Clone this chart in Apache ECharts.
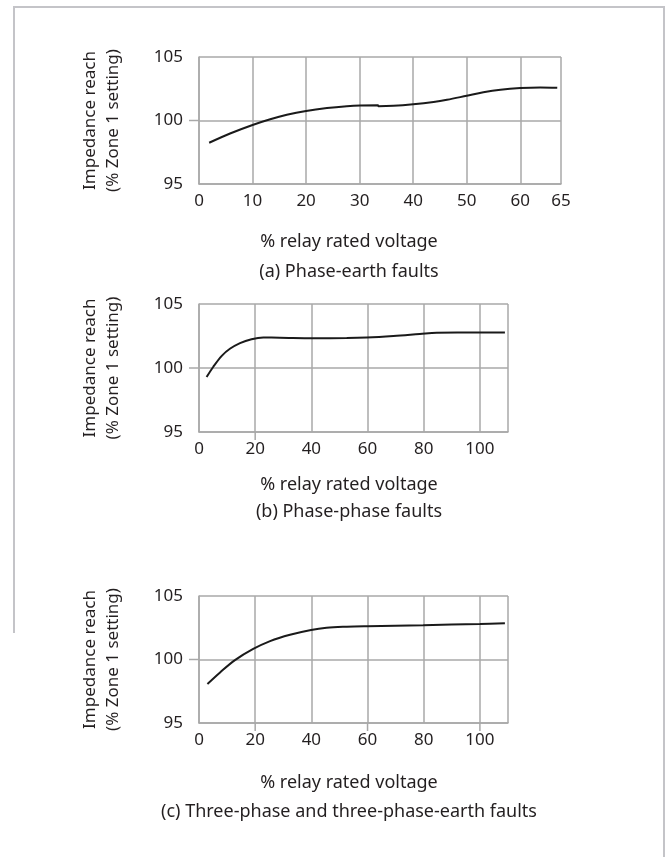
<!DOCTYPE html>
<html>
<head>
<meta charset="utf-8">
<script src="https://cdn.jsdelivr.net/npm/echarts@6/dist/echarts.min.js"></script>
<style>
  html, body { margin: 0; padding: 0; background: #fff; }
  #chart { width: 670px; height: 857px; }
</style>
</head>
<body>
<div id="chart"></div>
<script>
// (a) phase-earth faults  [% relay rated voltage, impedance reach %]
var phaseEarth = [
    [1.9, 98.25], [5.8, 98.98], [10, 99.65], [13.3, 100.1], [16.4, 100.45],
    [20, 100.75], [23.9, 100.98], [27.6, 101.13], [30.1, 101.19], [33.4, 101.21],
    [33.5, 101.13], [36.3, 101.16], [40, 101.28], [43.8, 101.46], [46.3, 101.63],
    [50, 101.95], [53.1, 102.22], [56.3, 102.42], [60, 102.55], [63.7, 102.6],
    [66.9, 102.57]
]
// (b) phase-phase faults
var phasePhase = [
    [2.7, 99.29], [5.1, 100.1], [8.1, 100.95], [11.0, 101.5], [14.6, 101.95],
    [18.7, 102.25], [22.9, 102.38], [28.8, 102.37], [40.7, 102.33], [52.6, 102.34],
    [59.7, 102.38], [69.2, 102.5], [78.6, 102.66], [84.6, 102.76], [99.3, 102.77],
    [108.9, 102.77]
]
// (c) three-phase and three-phase-earth faults
var threePhase = [
    [3.0, 98.07], [7.5, 98.98], [12.8, 99.95], [19.3, 100.83], [25.3, 101.45],
    [32.4, 101.95], [39.9, 102.33], [45.4, 102.5], [52.6, 102.58], [59.9, 102.62],
    [79.8, 102.7], [100, 102.8], [108.9, 102.86]
]

var xMaxA = 67.6          // right edge of plot (a), labelled "65"
var xEdgeLabelA = '65'
var xTicksA = [0, 10, 20, 30, 40, 50, 60]
var xTicksBC = [0, 20, 40, 60, 80, 100]
var xMaxBC = 110
var outerTicksX = [[], [20], [20, 60, 100]]
var outerTickY = 100

var captions = [
    ['% relay rated voltage', '(a) Phase-earth faults'],
    ['% relay rated voltage', '(b) Phase-phase faults'],
    ['% relay rated voltage', '(c) Three-phase and three-phase-earth faults']
]

var font = 'Noto Sans'
var textColor = '#231f20'
var gridColor = '#a8a8a8'

var grids = [
    { left: 199, top: 57, width: 362, height: 127 },
    { left: 199, top: 304, width: 309, height: 128 },
    { left: 199, top: 596, width: 309, height: 127 }
]

function xAxis(idx, max, interval, labels, edgeLabel) {
    return {
        type: 'value', gridIndex: idx, min: 0, max: max, interval: interval,
        axisLine: { show: true, lineStyle: { color: gridColor, width: 1.5 } },
        axisTick: { show: false },
        axisLabel: {
            customValues: edgeLabel ? labels.concat([max]) : labels,
            color: textColor, fontFamily: font, fontSize: 17, margin: 9,
            formatter: function (v) {
                if (v >= max - 0.01) return edgeLabel || ''
                return String(v)
            }
        },
        splitLine: { show: true, lineStyle: { color: gridColor, width: 1.5 } }
    }
}

function yAxis(idx) {
    return {
        type: 'value', gridIndex: idx, min: 95, max: 105, interval: 5,
        name: 'Impedance reach\n(% Zone 1 setting)',
        nameLocation: 'middle', nameRotate: 90, nameGap: 74,
        nameTextStyle: { color: textColor, fontFamily: font, fontSize: 17, lineHeight: 23 },
        axisLine: { show: true, lineStyle: { color: gridColor, width: 1.5 } },
        axisTick: { show: false },
        axisLabel: { color: textColor, fontFamily: font, fontSize: 17, margin: 16 },
        splitLine: { show: true, lineStyle: { color: gridColor, width: 1.5 } }
    }
}

function curve(idx, data) {
    return {
        type: 'line', xAxisIndex: idx, yAxisIndex: idx, data: data,
        smooth: 0.35, showSymbol: false, silent: true,
        lineStyle: { color: '#1a1a1a', width: 2 }
    }
}

var captionY = [[242, 272], [485, 512], [783, 812]]
var graphics = []
captions.forEach(function (c, i) {
    c.forEach(function (t, j) {
        graphics.push({
            type: 'text', x: 349, y: captionY[i][j],
            style: { text: t, fill: textColor, font: '18px "' + font + '"', textAlign: 'center', textVerticalAlign: 'middle' }
        })
    })
})

// page frame
graphics.push({
    type: 'polyline',
    shape: { points: [[14, 633], [14, 7], [664, 7], [664, 857]] },
    style: { stroke: '#c4c4c8', lineWidth: 2, fill: null }
})

var chart = echarts.init(document.getElementById('chart'))
chart.setOption({
    backgroundColor: '#fff',
    animation: false,
    grid: grids,
    xAxis: [
        xAxis(0, xMaxA, 10, xTicksA, xEdgeLabelA),
        xAxis(1, xMaxBC, 20, xTicksBC, null),
        xAxis(2, xMaxBC, 20, xTicksBC, null)
    ],
    yAxis: [yAxis(0), yAxis(1), yAxis(2)],
    series: [curve(0, phaseEarth), curve(1, phasePhase), curve(2, threePhase)],
    graphic: graphics
})

// the few outward tick marks, placed through the axes' own scales
var tickLines = []
var tickStyle = { stroke: gridColor, lineWidth: 1.5 }
for (var g = 0; g < 3; g++) {
    var p = chart.convertToPixel({ gridIndex: g }, [0, outerTickY])
    tickLines.push({ type: 'line', shape: { x1: p[0] - 10, y1: p[1], x2: p[0], y2: p[1] }, style: tickStyle })
    outerTicksX[g].forEach(function (v) {
        var q = chart.convertToPixel({ gridIndex: g }, [v, 95])
        tickLines.push({ type: 'line', shape: { x1: q[0], y1: q[1], x2: q[0], y2: q[1] + 8 }, style: tickStyle })
    })
}
chart.setOption({ graphic: graphics.concat(tickLines) })
</script>
</body>
</html>
